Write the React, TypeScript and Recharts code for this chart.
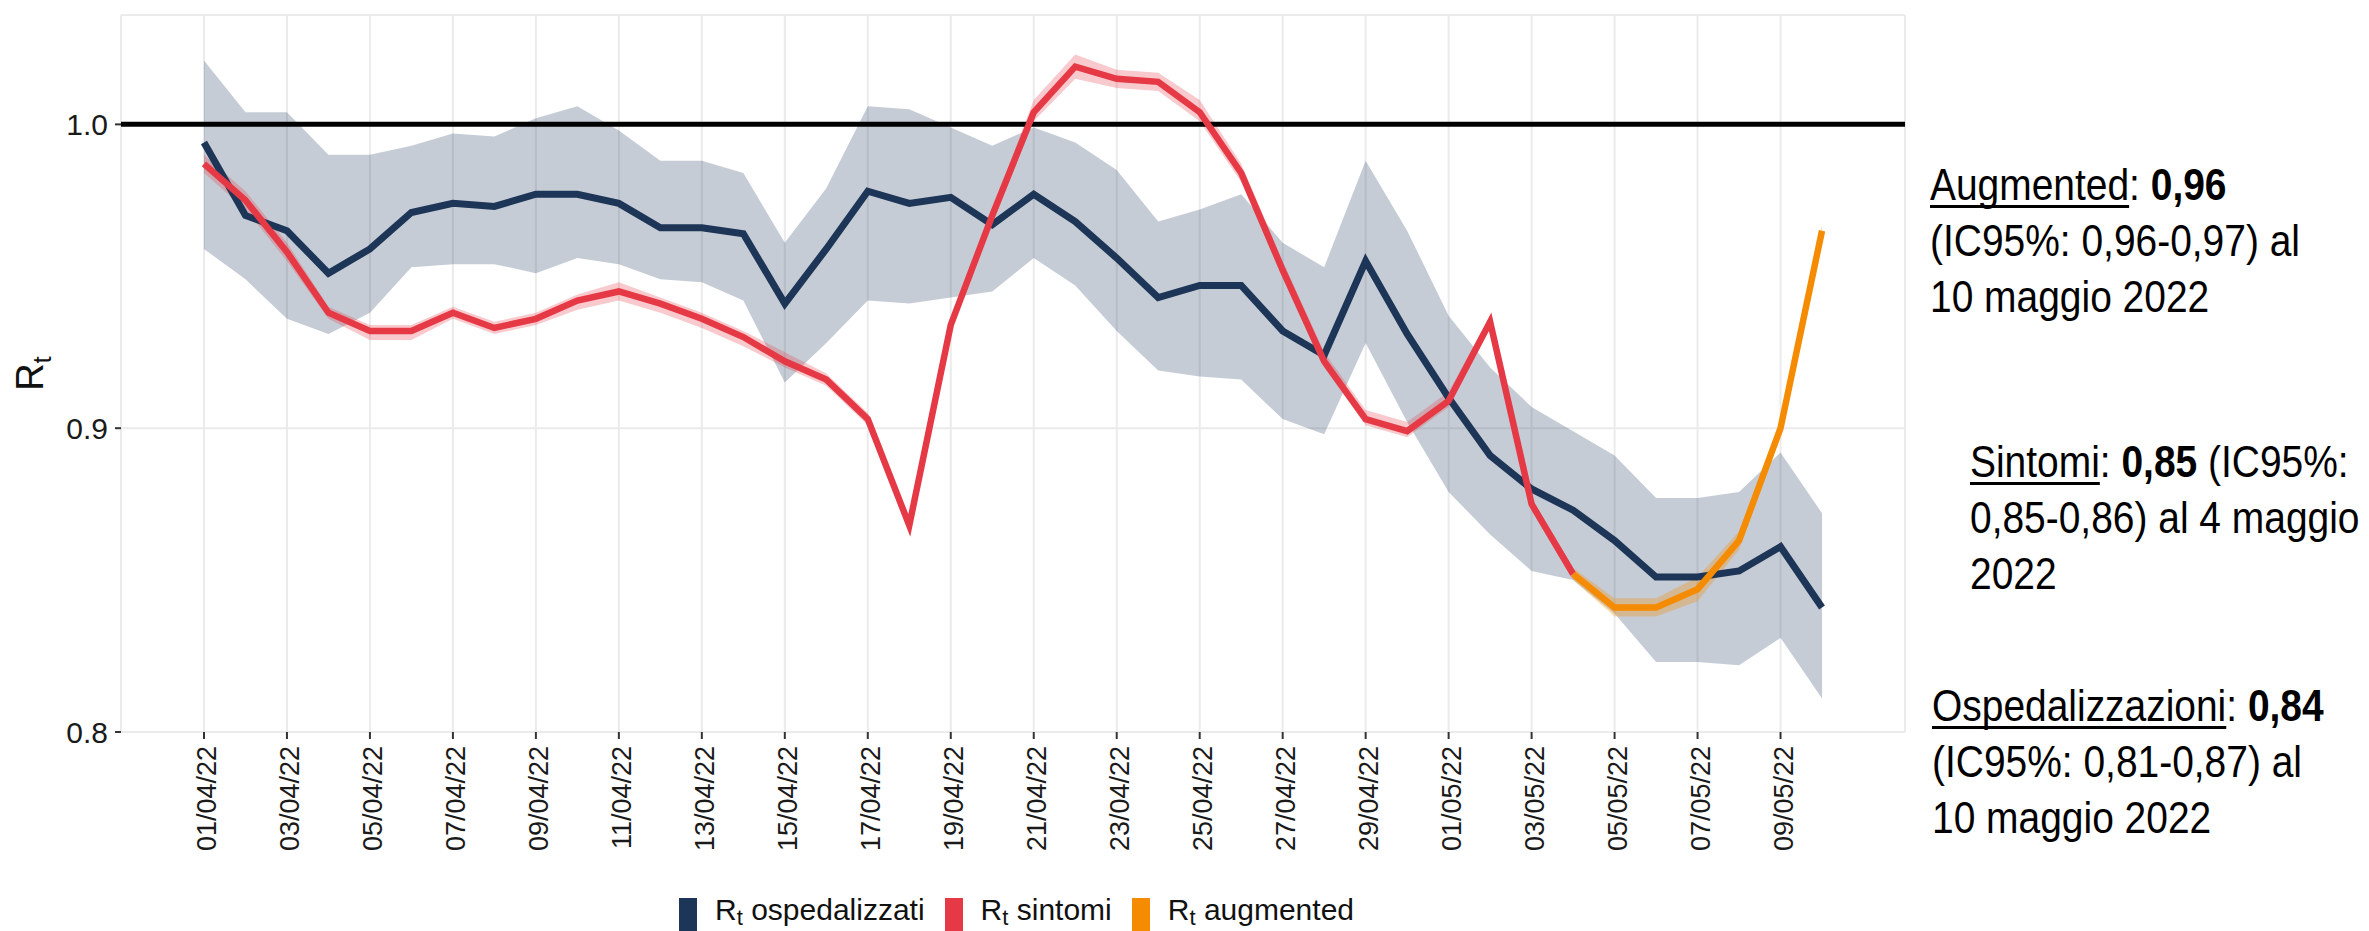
import {
  ComposedChart,
  Area,
  Line,
  XAxis,
  YAxis,
  CartesianGrid,
  ReferenceLine,
} from 'recharts';

const NAVY = '#1d3557';
const RED = '#e63946';
const ORANGE = '#f58b00';
const FONT = '"Liberation Sans", Arial, sans-serif';

// one entry per day, 01/04/22 -> 10/05/22
const dates = [
  '01/04/22', '02/04/22', '03/04/22', '04/04/22', '05/04/22', '06/04/22', '07/04/22', '08/04/22',
  '09/04/22', '10/04/22', '11/04/22', '12/04/22', '13/04/22', '14/04/22', '15/04/22', '16/04/22',
  '17/04/22', '18/04/22', '19/04/22', '20/04/22', '21/04/22', '22/04/22', '23/04/22', '24/04/22',
  '25/04/22', '26/04/22', '27/04/22', '28/04/22', '29/04/22', '30/04/22', '01/05/22', '02/05/22',
  '03/05/22', '04/05/22', '05/05/22', '06/05/22', '07/05/22', '08/05/22', '09/05/22', '10/05/22',
];

// labelled every other day
const tickDays = [0, 2, 4, 6, 8, 10, 12, 14, 16, 18, 20, 22, 24, 26, 28, 30, 32, 34, 36, 38];
const yTicks = [0.8, 0.9, 1.0];

// Rt ospedalizzati + IC95%
const ospedalizzati = [
  0.994, 0.970, 0.965, 0.951, 0.959, 0.971, 0.974, 0.973, 0.977, 0.977,
  0.974, 0.966, 0.966, 0.964, 0.941, 0.959, 0.978, 0.974, 0.976, 0.967,
  0.977, 0.968, 0.956, 0.943, 0.947, 0.947, 0.932, 0.924, 0.955, 0.931,
  0.910, 0.891, 0.880, 0.873, 0.863, 0.851, 0.851, 0.853, 0.861, 0.841,
];
const ospLow = [
  0.959, 0.949, 0.936, 0.931, 0.938, 0.953, 0.954, 0.954, 0.951, 0.956,
  0.954, 0.949, 0.948, 0.942, 0.915, 0.928, 0.942, 0.941, 0.943, 0.945,
  0.956, 0.947, 0.932, 0.919, 0.917, 0.916, 0.903, 0.898, 0.928, 0.902,
  0.879, 0.865, 0.853, 0.850, 0.839, 0.823, 0.823, 0.822, 0.831, 0.811,
];
const ospHigh = [
  1.021, 1.004, 1.004, 0.990, 0.990, 0.993, 0.997, 0.996, 1.002, 1.006,
  0.998, 0.988, 0.988, 0.984, 0.961, 0.979, 1.006, 1.005, 0.999, 0.993,
  0.999, 0.994, 0.985, 0.968, 0.972, 0.977, 0.961, 0.953, 0.988, 0.965,
  0.937, 0.920, 0.907, 0.899, 0.891, 0.877, 0.877, 0.879, 0.892, 0.872,
];

// Rt sintomi, available until 04/05
const sintomi = [
  0.987, 0.975, 0.958, 0.938, 0.932, 0.932, 0.938, 0.933, 0.936, 0.942,
  0.945, 0.941, 0.936, 0.930, 0.922, 0.916, 0.903, 0.868, 0.934, 0.970,
  1.004, 1.019, 1.015, 1.014, 1.004, 0.984, 0.952, 0.922, 0.903, 0.899,
  0.909, 0.935, 0.875, 0.852,
];
const sintLow = [
  0.984, 0.972, 0.955, 0.936, 0.929, 0.929, 0.936, 0.931, 0.934, 0.939,
  0.942, 0.938, 0.933, 0.927, 0.920, 0.914, 0.901, 0.867, 0.933, 0.968,
  1.001, 1.015, 1.012, 1.011, 1.001, 0.981, 0.950, 0.920, 0.901, 0.897,
  0.907, 0.933, 0.873, 0.850,
];
const sintHigh = [
  0.990, 0.978, 0.961, 0.940, 0.934, 0.934, 0.940, 0.935, 0.938, 0.944,
  0.948, 0.943, 0.938, 0.932, 0.925, 0.918, 0.905, 0.869, 0.935, 0.972,
  1.008, 1.023, 1.018, 1.017, 1.008, 0.987, 0.955, 0.925, 0.906, 0.902,
  0.912, 0.937, 0.877, 0.854,
];

// Rt augmented, from 04/05 onwards
const AUG_START = 33;
const augmented = [0.852, 0.841, 0.841, 0.847, 0.863, 0.900, 0.965];
const augLow = [0.850, 0.838, 0.838, 0.843, 0.860, 0.898, 0.963];
const augHigh = [0.854, 0.844, 0.844, 0.851, 0.866, 0.902, 0.967];

const rows = dates.map((date, i) => {
  const a = i - AUG_START;
  const hasSint = i < sintomi.length;
  return {
    day: i,
    date,
    osp: ospedalizzati[i],
    ospBand: [ospLow[i], ospHigh[i]],
    sint: hasSint ? sintomi[i] : null,
    sintBand: hasSint ? [sintLow[i], sintHigh[i]] : null,
    aug: a >= 0 ? augmented[a] : null,
    augBand: a >= 0 ? [augLow[a], augHigh[a]] : null,
  };
});

function DateTick({ x, y, payload }: any) {
  return (
    <text
      x={x}
      y={y}
      dy="0.45em"
      transform={`rotate(-90, ${x}, ${y})`}
      textAnchor="end"
      fontSize={27}
      fontFamily={FONT}
      fill="#1a1a1a"
    >
      {dates[payload.value]}
    </text>
  );
}

// "R" with a subscript t, rotated like ggplot's axis title
function YLabel({ viewBox }: any) {
  const cy = viewBox.y + viewBox.height / 2;
  const x = 43;
  return (
    <text
      x={x}
      y={cy}
      transform={`rotate(-90, ${x}, ${cy})`}
      textAnchor="middle"
      fontSize={38}
      fontFamily={FONT}
      fill="#111"
    >
      R<tspan fontSize={26} dy={8}>t</tspan>
    </text>
  );
}

const legendItems = [
  { label: 'ospedalizzati', color: NAVY },
  { label: 'sintomi', color: RED },
  { label: 'augmented', color: ORANGE },
];

const noteBase: React.CSSProperties = {
  position: 'absolute',
  fontFamily: FONT,
  fontSize: 45,
  lineHeight: '56px',
  color: '#000',
  whiteSpace: 'nowrap',
  transform: 'scaleX(0.865)',
  transformOrigin: '0 0',
};

const under: React.CSSProperties = {
  textDecoration: 'underline',
  textDecorationThickness: '3px',
  textUnderlineOffset: '5px',
  textDecorationSkipInk: 'none',
};

export default function App() {
  return (
    <div style={{ position: 'relative', width: 2369, height: 931, background: '#fff', overflow: 'hidden' }}>
      <style>{'body{margin:0}'}</style>
      <ComposedChart
        width={2369}
        height={931}
        data={rows}
        margin={{ top: 15, right: 464, bottom: 79, left: 0 }}
      >
        <CartesianGrid stroke="#ebebeb" strokeWidth={2} />
        <XAxis
          type="number"
          dataKey="day"
          domain={[-2, 41]}
          ticks={tickDays}
          interval={0}
          allowDataOverflow
          axisLine={false}
          tickLine={{ stroke: '#333', strokeWidth: 2 }}
          tickSize={7}
          tickMargin={7}
          height={120}
          tick={<DateTick />}
        />
        <YAxis
          type="number"
          domain={[0.8, 1.036]}
          ticks={yTicks}
          allowDataOverflow
          axisLine={false}
          tickLine={{ stroke: '#333', strokeWidth: 2 }}
          tickSize={6}
          tickMargin={7}
          width={121}
          tickFormatter={(v: number) => v.toFixed(1)}
          tick={{ fontSize: 30, fill: '#1a1a1a', fontFamily: FONT }}
          label={<YLabel />}
        />

        {/* IC95% ribbons */}
        <Area dataKey="ospBand" type="linear" stroke="none" fill={NAVY} fillOpacity={0.25} isAnimationActive={false} />
        <Area dataKey="sintBand" type="linear" stroke="none" fill={RED} fillOpacity={0.27} isAnimationActive={false} />
        <Area dataKey="augBand" type="linear" stroke="none" fill={ORANGE} fillOpacity={0.3} isAnimationActive={false} />

        <ReferenceLine y={1} stroke="#000" strokeWidth={5} />

        <Line dataKey="osp" type="linear" stroke={NAVY} strokeWidth={7} dot={false} activeDot={false} isAnimationActive={false} />
        <Line dataKey="sint" type="linear" stroke={RED} strokeWidth={6.5} dot={false} activeDot={false} isAnimationActive={false} />
        <Line dataKey="aug" type="linear" stroke={ORANGE} strokeWidth={6.5} dot={false} activeDot={false} isAnimationActive={false} />
      </ComposedChart>

      {/* legend */}
      <div
        style={{
          position: 'absolute',
          left: 679,
          top: 895,
          display: 'flex',
          alignItems: 'flex-start',
          fontFamily: FONT,
          fontSize: 30,
          lineHeight: '30px',
          color: '#111',
        }}
      >
        {legendItems.map((it) => (
          <div key={it.label} style={{ display: 'flex', alignItems: 'flex-start', marginRight: 20 }}>
            <div style={{ width: 18, height: 33, marginTop: 3, background: it.color, marginRight: 18 }} />
            <span style={{ whiteSpace: 'nowrap' }}>
              R<span style={{ fontSize: 22, position: 'relative', top: 5 }}>t</span> {it.label}
            </span>
          </div>
        ))}
      </div>

      {/* annotations on the right */}
      <div style={{ ...noteBase, left: 1930, top: 157 }}>
        <span style={under}>Augmented</span>: <b>0,96</b>
        <br />
        (IC95%: 0,96-0,97) al
        <br />
        10 maggio 2022
      </div>
      <div style={{ ...noteBase, left: 1970, top: 434 }}>
        <span style={under}>Sintomi</span>: <b>0,85</b> (IC95%:
        <br />
        0,85-0,86) al 4 maggio
        <br />
        2022
      </div>
      <div style={{ ...noteBase, left: 1932, top: 678 }}>
        <span style={under}>Ospedalizzazioni</span>: <b>0,84</b>
        <br />
        (IC95%: 0,81-0,87) al
        <br />
        10 maggio 2022
      </div>
    </div>
  );
}
